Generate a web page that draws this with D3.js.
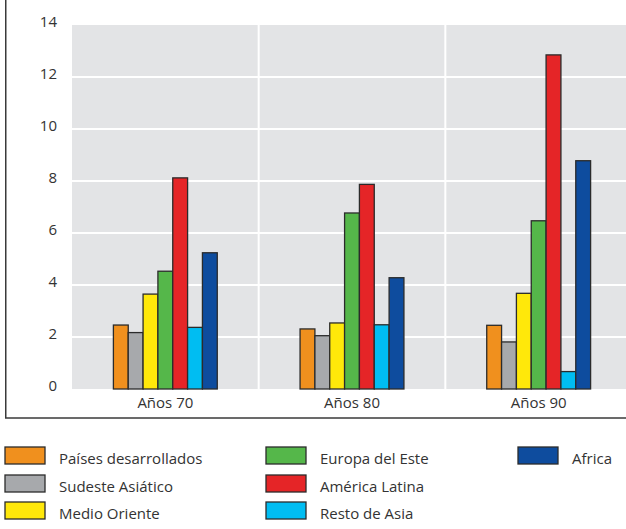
<!DOCTYPE html>
<html><head><meta charset="utf-8">
<script src="https://cdn.jsdelivr.net/npm/d3@7"></script>
<style>body{margin:0;background:#fff}svg{display:block}text{font-family:"Open Sans",sans-serif;fill:#333}</style>
</head><body>
<svg id="c" width="626" height="529"></svg>
<script>
const groups = ["Años 70", "Años 80", "Años 90"];
const series = ["Países desarrollados","Sudeste Asiático","Medio Oriente","Europa del Este","América Latina","Resto de Asia","Africa"];
const colors = ["#F0901E","#A7A9AC","#FFE80A","#55B74A","#E52527","#00BDF2","#0E4C9E"];
const values = [
  [2.46, 2.17, 3.65, 4.53, 8.12, 2.37, 5.24],
  [2.31, 2.05, 2.54, 6.77, 7.87, 2.47, 4.28],
  [2.45, 1.81, 3.68, 6.47, 12.85, 0.67, 8.78]
];
const yTicks = [0,2,4,6,8,10,12,14];

const svg = d3.select("#c");
const L = 72, R = 632, T = 25, B = 389;
const x0 = d3.scaleBand().domain(groups).range([L, R]);
const x1 = d3.scaleBand().domain(series).range([0, x0.bandwidth()]).paddingOuter(2.79);
const y = d3.scaleLinear().domain([0,14]).range([B, T]);

// frame
svg.append("rect").attr("x",5.75).attr("y",-10).attr("width",640).attr("height",428)
  .attr("fill","none").attr("stroke","#3a3a3a").attr("stroke-width",1.5);

// plot bg
svg.append("rect").attr("x",L).attr("y",T).attr("width",R-L).attr("height",B-T).attr("fill","#E3E4E6");

// gridlines
svg.append("g").selectAll("line").data(yTicks.filter(d=>d>0 && d<14)).join("line")
  .attr("x1",L).attr("x2",R).attr("y1",d=>y(d)).attr("y2",d=>y(d))
  .attr("stroke","#fff").attr("stroke-width",2);
svg.append("g").selectAll("line").data(groups.slice(1)).join("line")
  .attr("x1",d=>x0(d)).attr("x2",d=>x0(d)).attr("y1",T).attr("y2",B)
  .attr("stroke","#fff").attr("stroke-width",2);

// y labels
svg.append("g").selectAll("text").data(yTicks).join("text")
  .attr("x",57).attr("y",d=>y(d)+1.5).attr("text-anchor","end")
  .attr("font-size",15).text(d=>d);

// x labels
svg.append("g").selectAll("text").data(groups).join("text")
  .attr("x",d=>x0(d)+x0.bandwidth()/2).attr("y",407.5).attr("text-anchor","middle")
  .attr("font-size",15).text(d=>d);

// bars
const g = svg.append("g").selectAll("g").data(groups).join("g")
  .attr("transform",d=>`translate(${x0(d)},0)`);
g.selectAll("rect").data((d,i)=>values[i].map((v,j)=>({s:series[j],v,c:colors[j]}))).join("rect")
  .attr("x",d=>x1(d.s)).attr("width",x1.bandwidth())
  .attr("y",d=>y(d.v)).attr("height",d=>B-y(d.v))
  .attr("fill",d=>d.c).attr("stroke","#2b2b2b").attr("stroke-width",1.3);

// legend
const colX = [5, 266, 518];
const rowY = [447, 475, 502];
const leg = svg.append("g").selectAll("g").data(series).join("g")
  .attr("transform",(d,i)=>`translate(${colX[Math.floor(i/3)]},${rowY[i%3]})`);
leg.append("rect").attr("width",40).attr("height",17).attr("fill",(d,i)=>colors[i])
  .attr("stroke","#2b2b2b").attr("stroke-width",1.3);
leg.append("text").attr("x",54).attr("y",17).attr("font-size",15).text(d=>d);
</script>
</body></html>
